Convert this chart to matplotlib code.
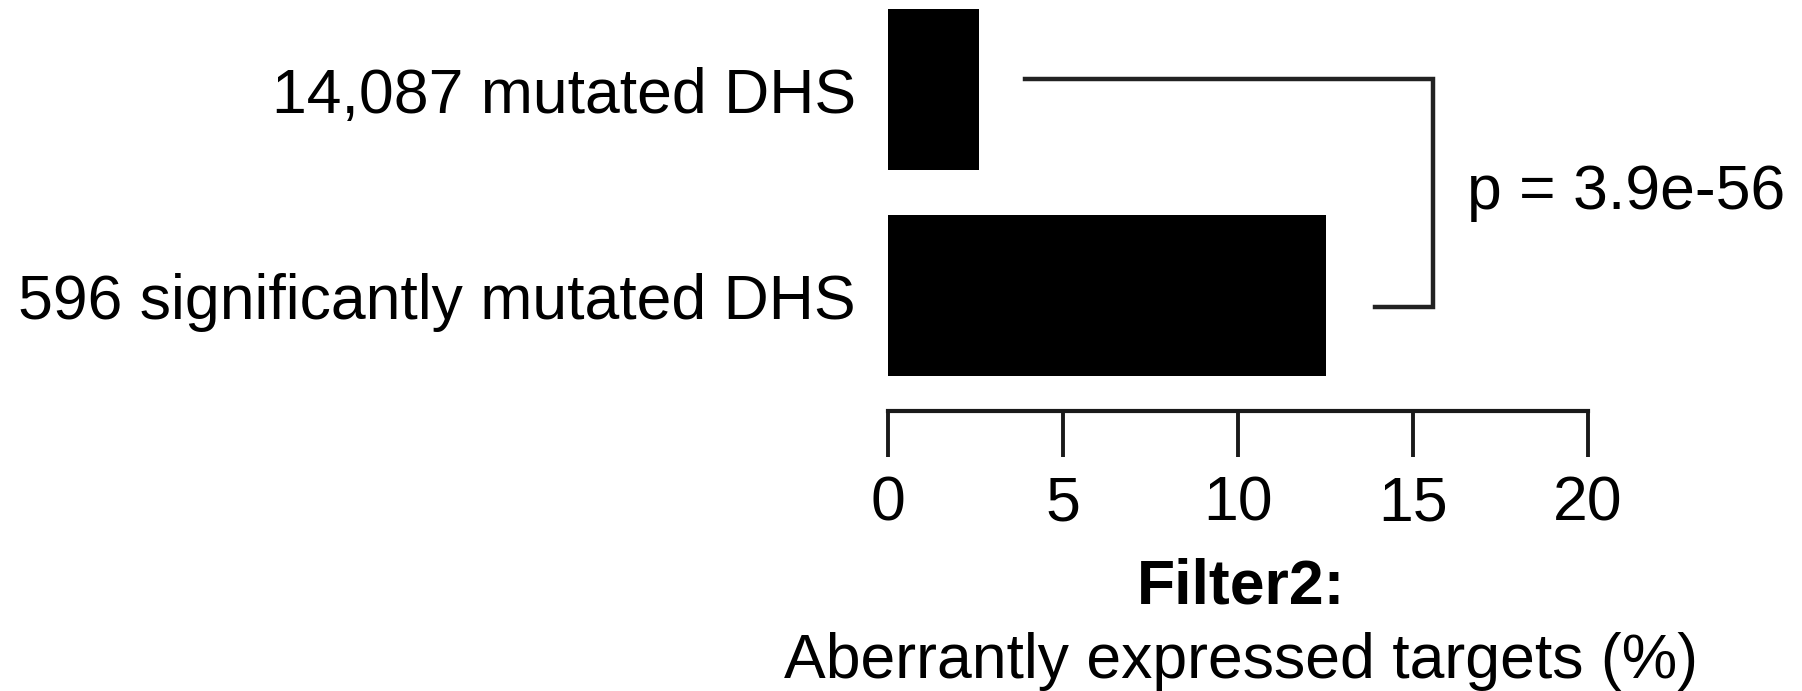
import matplotlib
matplotlib.use("Agg")
import matplotlib.pyplot as plt
from matplotlib.transforms import blended_transform_factory

plt.rcParams['font.family'] = ['Liberation Sans', 'DejaVu Sans']

# Data
categories = ["596 significantly mutated DHS", "14,087 mutated DHS"]
values = [12.5, 2.6]
xticks = [0, 5, 10, 15, 20]
p_label = "p = 3.9e-56"

positions = list(range(len(categories)))

fig = plt.figure(figsize=(18.02, 6.91), dpi=100)
ax = fig.add_axes([888 / 1802, 280 / 691, 700 / 1802, 411 / 691])

ax.barh(positions, values, height=0.78, color='black')

ax.set_xlim(0, 20)
ax.set_ylim(-0.56, 1.435)

# axis styling
for side in ['top', 'right', 'left']:
    ax.spines[side].set_visible(False)
ax.spines['bottom'].set_linewidth(3.0)
ax.spines['bottom'].set_color('#1a1a1a')
ax.set_xticks(xticks)
ax.set_xticklabels([str(t) for t in xticks])
ax.tick_params(axis='x', direction='out', length=33, width=2.8,
               color='#1a1a1a', labelsize=45, pad=13)
ax.set_yticks(positions)
ax.set_yticklabels(categories)
ax.tick_params(axis='y', length=0, labelsize=45, pad=23)

# significance bracket
bx_top = 3.9
bx_bot = 13.9
bx_right = 15.57
y_top = 1.05
y_bot = -0.053
ax.plot([bx_top, bx_right, bx_right, bx_bot], [y_top, y_top, y_bot, y_bot],
        color='#222222', lw=3.2, clip_on=False, solid_joinstyle='miter')
ax.text(16.55, (y_top + y_bot) / 2, p_label, fontsize=45, va='center', ha='left')

# x-axis title
tr = blended_transform_factory(ax.transData, fig.transFigure)
ax.text(10.1, 0.127, "Filter2:", transform=tr, ha='center', va='baseline',
        fontsize=45, fontweight='bold')
ax.text(10.1, 0.019, "Aberrantly expressed targets (%)", transform=tr,
        ha='center', va='baseline', fontsize=45)

fig.savefig("out.png", dpi=100, facecolor='white')
